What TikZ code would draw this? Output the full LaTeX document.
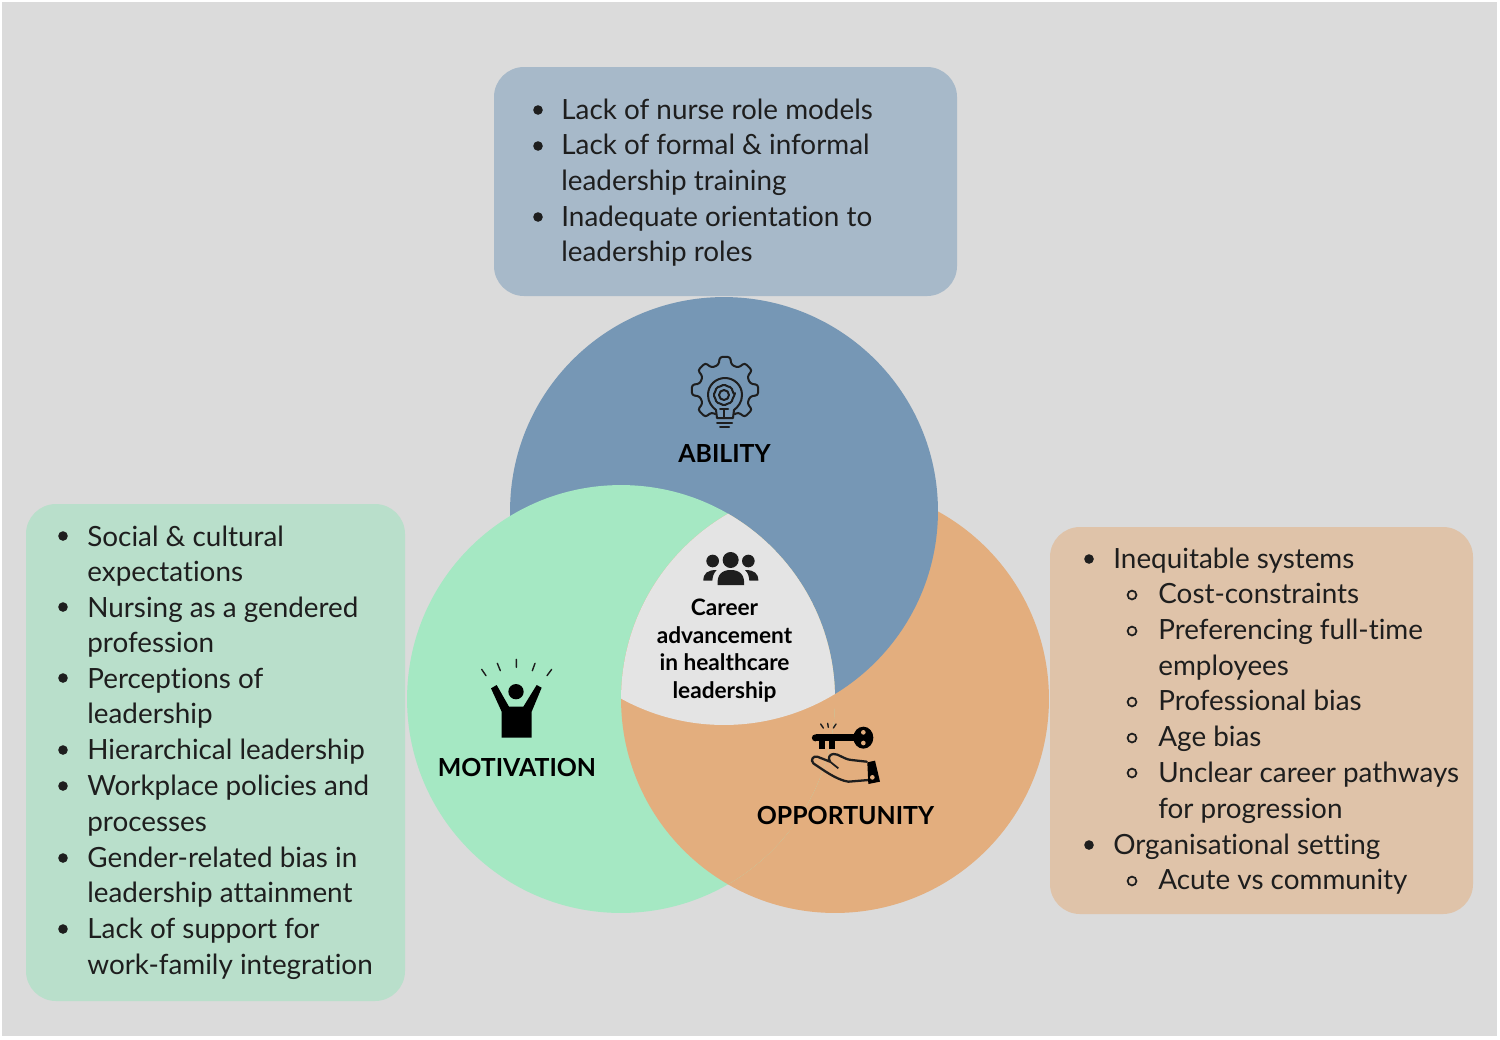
\documentclass[tikz,border=0pt]{standalone}
\usepackage{fontspec}
\setmainfont{Lato}[Ligatures=NoCommon]
\definecolor{bgc}{HTML}{DBDBDB}
\definecolor{blc}{HTML}{7697B5}
\definecolor{grc}{HTML}{A5E8C3}
\definecolor{orc}{HTML}{E3AE7E}
\definecolor{cec}{HTML}{E4E4E4}
\definecolor{blb}{HTML}{A7B9C9}
\definecolor{grb}{HTML}{B9DFCB}
\definecolor{orb}{HTML}{DFC3A9}
\definecolor{ink}{HTML}{1E1E1E}
\tikzset{
  bodytext/.style={anchor=base west,inner sep=0pt,text=ink,font=\fontsize{15.85pt}{18pt}\selectfont},
  biglabel/.style={anchor=center,inner sep=0pt,text=black,font=\fontsize{14.15pt}{17pt}\selectfont\bfseries},
  corelabel/.style={anchor=base,inner sep=0pt,text=black,font=\fontsize{12.9pt}{14pt}\selectfont\bfseries},
  listbox/.style={rounded corners=0.6cm},
  bull/.style={fill=ink},
  hollow/.style={draw=ink,line width=1pt},
  iconline/.style={draw=ink,line width=1.15pt,line join=round,line cap=round},
}
\begin{document}
\begin{tikzpicture}[x=0.02cm,y=-0.02cm]
\useasboundingbox (0,0) rectangle (1500,1039);
\fill[white] (0,0) rectangle (1500,1039);
\fill[bgc] (2,2) rectangle (1497,1036);
% boxes
\fill[blb,listbox] (494,67) rectangle (957,296);
\fill[grb,listbox] (26,504) rectangle (405,1001);
\fill[orb,listbox] (1050,527) rectangle (1473,914);
% venn
\def\cA{(724,511) circle [radius=4.28cm]}
\def\cM{(621,699) circle [radius=4.28cm]}
\def\cO{(835,699) circle [radius=4.28cm]}
\fill[orc] \cO;
\fill[blc] \cA;
\fill[grc] \cM;
\begin{scope}\clip \cM; \fill[orc] \cO; \end{scope}
\begin{scope}\clip \cA; \clip \cM; \fill[cec] \cO; \end{scope}
% top list
\foreach \yy/\tt [count=\i] in {119/Lack of nurse role models,154.7/Lack of formal \& informal,190.4/leadership training,226/Inadequate orientation to,261.8/leadership roles}
  \node[bodytext] (ab\i) at (561,\yy) {\tt};
\foreach \yy [count=\i] in {110,146,217} \fill[bull] (538,\yy) circle [radius=4.8] coordinate (abb\i);
% left list
\foreach \yy/\tt [count=\i] in {546/Social \& cultural,581.5/expectations,617/Nursing as a gendered,652.5/profession,688/Perceptions of,723.5/leadership,759.5/Hierarchical leadership,795/Workplace policies and,831/processes,867/Gender-related bias in,902.5/leadership attainment,938.5/Lack of support for,974/work-family integration}
  \node[bodytext] (mo\i) at (87,\yy) {\tt};
\foreach \yy [count=\i] in {536,607,678,750,786,858,929} \fill[bull] (63,\yy) circle [radius=4.8] coordinate (mob\i);
% right list
\foreach \xx/\yy/\tt [count=\i] in {1113/568/Inequitable systems,1158/603.5/Cost-constraints,1158/639/Preferencing full-time,1158/675/employees,1158/710.5/Professional bias,1158/746/Age bias,1158/782.5/Unclear career pathways,1158/818/for progression,1113/854/Organisational setting,1158/889.5/Acute vs community}
  \node[bodytext] (op\i) at (\xx,\yy) {\tt};
\foreach \yy [count=\i] in {559,845} \fill[bull] (1089,\yy) circle [radius=4.8] coordinate (opb\i);
\foreach \yy [count=\i] in {595,631,702,738,773,881} \draw[hollow] (1132,\yy) circle [radius=4.4] coordinate (oph\i);
% labels
\node[biglabel] (ability) at (724.5,453) {ABILITY};
\node[biglabel] (motivation) at (517,767) {MOTIVATION};
\node[biglabel] (opportunity) at (845.5,815) {OPPORTUNITY};
\foreach \yy/\tt [count=\i] in {615/Career,643/advancement,670.5/in healthcare,698/leadership}
  \node[corelabel] (core\i) at (724.5,\yy) {\tt};
% gear icon
\begin{scope}[shift={(725,390)}]
  \draw[iconline,rounded corners=1.5] (112:26)
    \foreach \a in {135,180,225,270,315,360,405} { -- ({\a-14}:26) -- ({\a-9}:33.5) -- ({\a+9}:33.5) -- ({\a+14}:26) }
    -- (68:26);
  \draw[iconline] (-8,28) -- (-9,20) .. controls (-13,17) and (-17,12) .. (-17,5) .. controls (-17,-5) and (-9,-12) .. (0,-12) .. controls (9,-12) and (17,-5) .. (17,5) .. controls (17,12) and (13,17) .. (9,20) -- (8,28) -- cycle;
  \draw[iconline,shift={(-1,5)},rounded corners=1] (0:11)
    \foreach \a in {22.5,67.5,...,337.5} { -- (\a:9) -- ({\a+22.5}:11) } -- cycle;
  \draw[iconline] (-1,5) circle [radius=5];
  \draw[iconline] (-1,19) -- (-1,28) (-5,19) -- (3,19);
  \draw[iconline] (-8,33) -- (7,33) (-5,37) -- (4,37);
\end{scope}
% motivation icon
\begin{scope}[shift={(440,640)},x=0.00667cm,y=-0.00667cm]
  \fill[black] (228,155) circle [radius=23];
  \fill[black,line join=round] (153,145) -- (170,135) -- (207,200) -- (250,200) -- (290,135) -- (305,143) -- (275,215) -- (275,293) -- (185,293) -- (185,215) -- cycle;
  \draw[ink,line width=0.8pt,line cap=round] (125,88)--(138,107) (172,70)--(181,92) (229,58)--(229,82) (285,70)--(277,92) (335,88)--(321,107);
\end{scope}
% key icon
\begin{scope}[shift={(780,700)},x=0.00667cm,y=-0.00667cm]
  \fill[black] (108,103) rectangle (235,124);
  \fill[black] (106,113.5) circle [radius=10.5];
  \fill[black] (118,103) rectangle (135,148);
  \fill[black] (148,103) rectangle (166,148);
  \fill[black] (250,113) ellipse [x radius=30,y radius=33];
  \fill[orc] (250,97) circle [radius=7];
  \fill[orc] (250,129) circle [radius=7];
  \draw[ink,line width=0.8pt,line cap=round] (122,72)--(130,84) (143,70)--(145,82) (168,72)--(160,84);
  \draw[ink,line width=1.3pt,line join=round,line cap=round] (260,185) -- (215,180) .. controls (190,178) and (175,160) .. (160,162) .. controls (150,163) and (142,172) .. (150,185) -- (112,170) .. controls (100,166) and (90,180) .. (100,190) .. controls (130,210) and (170,240) .. (205,245) -- (265,240);
  \draw[ink,line width=1pt] (150,185) -- (175,205);
  \fill[black] (262,187) -- (285,182) -- (300,245) -- (265,252) -- cycle;
  \fill[orc] (277,232) circle [radius=7];
\end{scope}
% people icon
\begin{scope}[shift={(620,340)},x=0.00667cm,y=-0.00667cm]
  \fill[ink] (332,660) circle [radius=24];
  \fill[ink] (278,663) circle [radius=19];
  \fill[ink] (385,663) circle [radius=19];
  \fill[ink] (293,735) .. controls (290,705) and (305,690) .. (332,690) .. controls (360,690) and (375,705) .. (372,735) -- cycle;
  \fill[ink] (250,722) .. controls (250,700) and (262,690) .. (290,690) .. controls (280,700) and (278,710) .. (277,722) -- cycle;
  \fill[ink] (415,722) .. controls (415,700) and (403,690) .. (375,690) .. controls (385,700) and (387,710) .. (388,722) -- cycle;
\end{scope}
\end{tikzpicture}
\end{document}
